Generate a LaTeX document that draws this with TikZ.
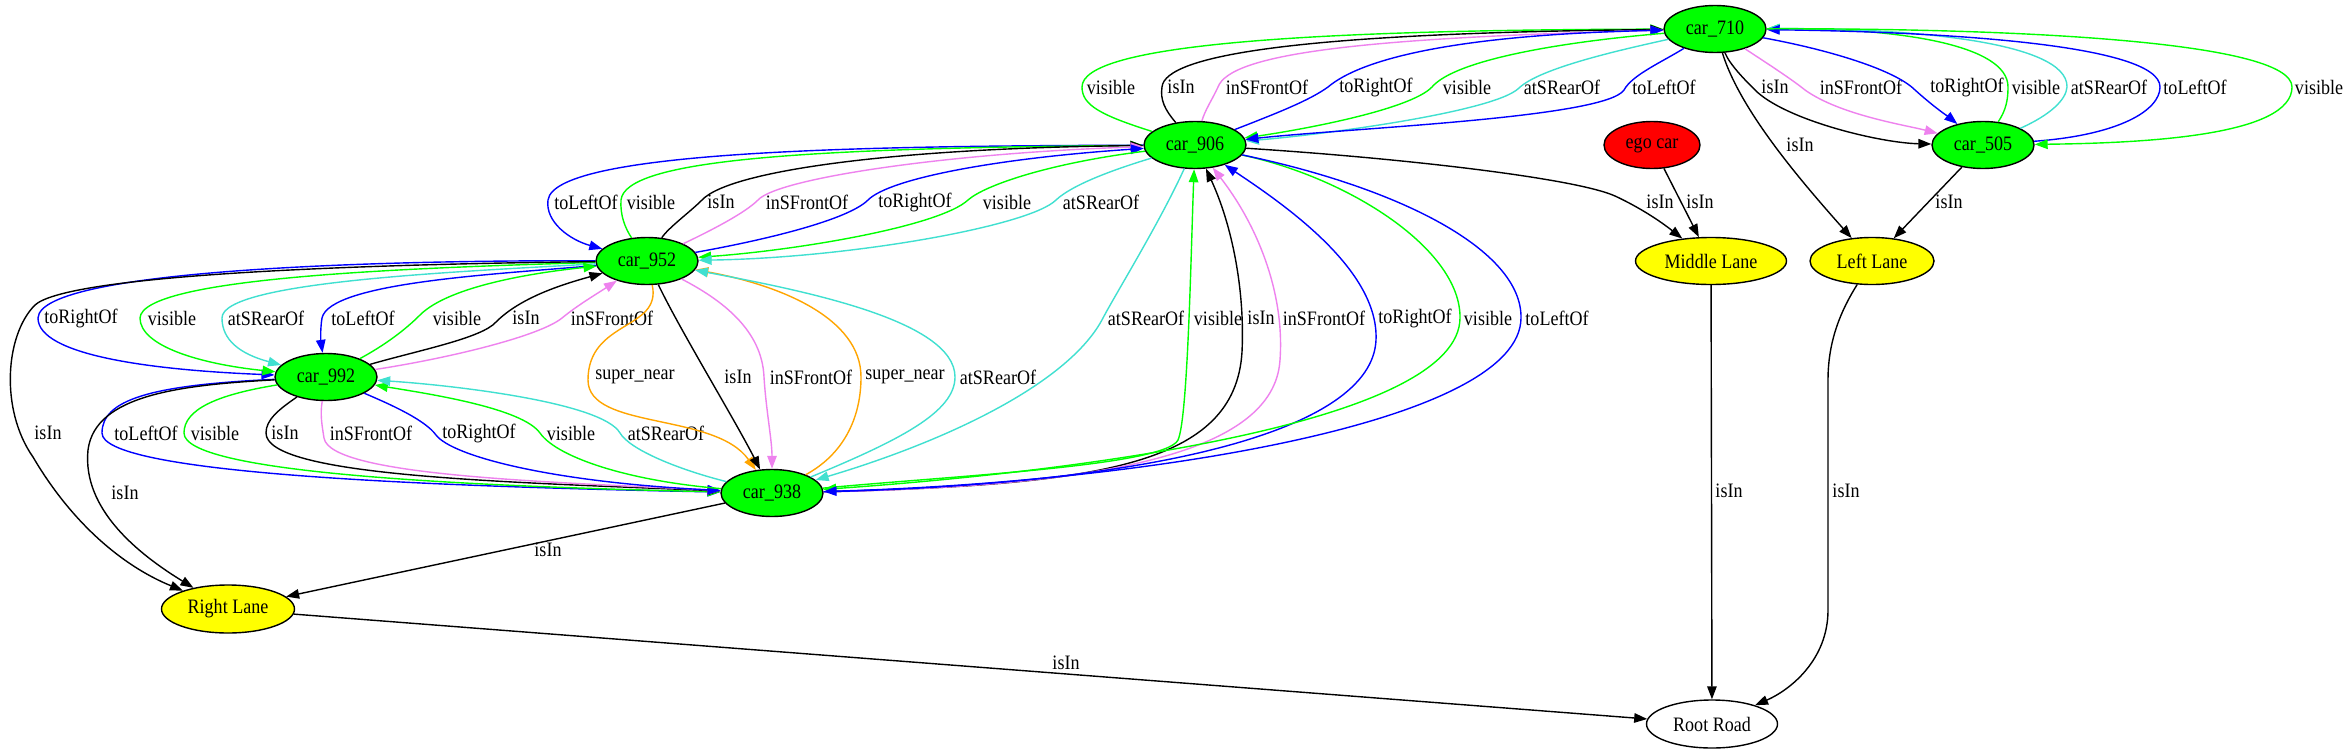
\documentclass[tikz,border=0pt]{standalone}
\usepackage{fontspec}
\setmainfont{Liberation Serif}
\newfontfamily\gvfam[FakeStretch=0.88]{Liberation Serif}
\usetikzlibrary{shapes.geometric,arrows.meta}
\definecolor{gvgreen}{HTML}{00FF00}
\definecolor{gvblue}{HTML}{0000FF}
\definecolor{gvviolet}{HTML}{EE82EE}
\definecolor{gvturq}{HTML}{40E0D0}
\definecolor{gvorange}{HTML}{FFA500}
\definecolor{gvred}{HTML}{FF0000}
\definecolor{gvyellow}{HTML}{FFFF00}
\newcommand{\gvf}{\gvfam\fontsize{20.5}{23}\selectfont}
\tikzset{
  nd/.style={ellipse, draw=black, line width=1.4pt, inner sep=0pt, minimum height=47pt, font=\gvf, text=black},
  car/.style={nd, fill=gvgreen, minimum width=102pt},
  egonode/.style={nd, fill=gvred, minimum width=96pt},
  lane/.style={nd, fill=gvyellow},
  road/.style={nd, fill=white, minimum width=131pt, minimum height=48pt},
  ed/.style={line width=1.4pt, -{Triangle[length=13pt,width=9.5pt]}},
  eg/.style={ed, draw=gvgreen},
  eb/.style={ed, draw=gvblue},
  ek/.style={ed, draw=black},
  ev/.style={ed, draw=gvviolet},
  et/.style={ed, draw=gvturq},
  eo/.style={ed, draw=gvorange},
  lbl/.style={font=\gvf, inner sep=0pt, text=black}
}
\begin{document}
\begin{tikzpicture}[x=1pt,y=-1pt]
\fill[white] (0,0) rectangle (2349,755);
\useasboundingbox (0,0) rectangle (2349,755);

% nodes
\node[car] (n710) at (1715,29) {car\_710};
\node[car] (n906) at (1195,145) {car\_906};
\node[egonode] (nego) at (1652,145) {ego car};
\node[car] (n505) at (1983,145) {car\_505};
\node[car] (n952) at (647,261) {car\_952};
\node[lane, minimum width=151pt] (nML) at (1711,261) {Middle Lane};
\node[lane, minimum width=124pt] (nLL) at (1872,261) {Left Lane};
\node[car] (n992) at (326,377) {car\_992};
\node[car] (n938) at (772,493) {car\_938};
\node[lane, minimum width=133pt, minimum height=48pt] (nRL) at (228,609) {Right Lane};
\node[road] (nRR) at (1712,724) {Root Road};

% 906 <-> 710
\draw[eg] (n906) .. controls (1100,115) and (1082,105) .. (1082,87) .. controls (1082,45) and (1300,30) .. (n710) node[lbl] at (1111,87) {visible};
\draw[ek] (n906) .. controls (1165,110) and (1160,100) .. (1162,87) .. controls (1165,55) and (1300,33) .. (n710) node[lbl] at (1181,87) {isIn};
\draw[ev] (n906) .. controls (1205,110) and (1212,100) .. (1218,87) .. controls (1230,55) and (1350,38) .. (n710) node[lbl] at (1267,87) {inSFrontOf};
\draw[eb] (n906) .. controls (1280,112) and (1310,100) .. (1328,87) .. controls (1360,60) and (1450,35) .. (n710) node[lbl] at (1376,87) {toRightOf};
\draw[eg] (n710) .. controls (1560,42) and (1455,60) .. (1432,87) .. controls (1410,110) and (1300,130) .. (n906) node[lbl] at (1467,87) {visible};
\draw[et] (n710) .. controls (1620,50) and (1540,68) .. (1519,88) .. controls (1495,112) and (1320,135) .. (n906) node[lbl] at (1562,87) {atSRearOf};
\draw[eb] (n710) .. controls (1662,62) and (1632,75) .. (1624,90) .. controls (1605,118) and (1350,128) .. (n906) node[lbl] at (1664,87) {toLeftOf};

% 710 <-> 505
\draw[ek] (n710) .. controls (1730,65) and (1745,80) .. (1755,90) .. controls (1785,120) and (1880,143) .. (n505) node[lbl] at (1775,87) {isIn};
\draw[ev] (n710) .. controls (1765,62) and (1790,78) .. (1805,90) .. controls (1840,115) and (1905,125) .. (n505) node[lbl] at (1861,87) {inSFrontOf};
\draw[eb] (n710) .. controls (1830,50) and (1895,70) .. (1915,90) .. controls (1935,108) and (1950,118) .. (n505) node[lbl] at (1967,87) {toRightOf};
\draw[eg] (n505) .. controls (2006,110) and (2008,100) .. (2008,87) .. controls (2008,45) and (1900,28) .. (n710) node[lbl] at (2036,87) {visible};
\draw[et] (n505) .. controls (2050,115) and (2066,100) .. (2067,87) .. controls (2068,40) and (1900,28) .. (n710) node[lbl] at (2109,87) {atSRearOf};
\draw[eb] (n505) .. controls (2120,135) and (2160,110) .. (2160,87) .. controls (2160,45) and (1950,32) .. (n710) node[lbl] at (2195,87) {toLeftOf};
\draw[eg] (n710) .. controls (2000,28) and (2292,40) .. (2292,87) .. controls (2292,135) and (2150,143) .. (n505) node[lbl] at (2319,87) {visible};

% lanes (upper)
\draw[ek] (n906) .. controls (1400,158) and (1575,178) .. (1615,196) .. controls (1645,210) and (1665,225) .. (nML) node[lbl] at (1660,202) {isIn};
\draw[ek] (nego) -- (nML) node[lbl] at (1700,202) {isIn};
\draw[ek] (n505) -- (nLL) node[lbl] at (1949,202) {isIn};
\draw[ek] (n710) .. controls (1740,110) and (1800,180) .. (nLL) node[lbl] at (1800,145) {isIn};

% 906 <-> 952
\draw[eb] (n906) .. controls (900,146) and (555,148) .. (548,200) .. controls (545,222) and (570,240) .. (n952) node[lbl] at (586,202) {toLeftOf};
\draw[eg] (n952) .. controls (625,228) and (620,215) .. (621,200) .. controls (625,160) and (800,148) .. (n906) node[lbl] at (651,202) {visible};
\draw[ek] (n952) .. controls (668,228) and (690,212) .. (702,200) .. controls (730,170) and (900,148) .. (n906) node[lbl] at (721,202) {isIn};
\draw[ev] (n952) .. controls (712,230) and (745,213) .. (758,200) .. controls (778,178) and (950,153) .. (n906) node[lbl] at (807,202) {inSFrontOf};
\draw[eb] (n952) .. controls (765,240) and (848,220) .. (868,200) .. controls (890,178) and (1000,158) .. (n906) node[lbl] at (915,202) {toRightOf};
\draw[eg] (n906) .. controls (1050,163) and (985,185) .. (968,200) .. controls (940,226) and (800,250) .. (n952) node[lbl] at (1007,202) {visible};
\draw[et] (n906) .. controls (1112,170) and (1072,185) .. (1056,200) .. controls (1030,226) and (850,258) .. (n952) node[lbl] at (1101,202) {atSRearOf};

% 952 <-> 992
\draw[eb] (n952) .. controls (400,260) and (40,268) .. (38,318) .. controls (38,355) and (150,370) .. (n992) node[lbl] at (81,318) {toRightOf};
\draw[eg] (n952) .. controls (400,268) and (142,278) .. (140,318) .. controls (140,346) and (200,364) .. (n992) node[lbl] at (172,318) {visible};
\draw[et] (n952) .. controls (450,272) and (222,282) .. (222,318) .. controls (222,340) and (240,354) .. (n992) node[lbl] at (266,318) {atSRearOf};
\draw[eb] (n952) .. controls (500,274) and (330,282) .. (322,318) .. controls (320,330) and (321,342) .. (n992) node[lbl] at (363,318) {toLeftOf};
\draw[eg] (n992) .. controls (385,345) and (405,330) .. (420,315) .. controls (450,285) and (540,272) .. (n952) node[lbl] at (457,318) {visible};
\draw[ek] (n992) .. controls (420,350) and (482,338) .. (496,322) .. controls (520,298) and (560,285) .. (n952) node[lbl] at (526,318) {isIn};
\draw[ev] (n992) .. controls (450,358) and (540,336) .. (562,318) .. controls (578,305) and (595,295) .. (n952) node[lbl] at (612,318) {inSFrontOf};

% 992 <-> 938
\draw[eb] (n992) .. controls (150,385) and (102,400) .. (102,433) .. controls (102,472) and (400,486) .. (n938) node[lbl] at (146,433) {toLeftOf};
\draw[eg] (n992) .. controls (215,395) and (184,410) .. (184,433) .. controls (184,472) and (450,486) .. (n938) node[lbl] at (215,433) {visible};
\draw[ek] (n992) .. controls (278,410) and (266,420) .. (266,433) .. controls (266,476) and (500,482) .. (n938) node[lbl] at (285,433) {isIn};
\draw[ev] (n992) .. controls (320,415) and (322,425) .. (324,438) .. controls (330,476) and (550,482) .. (n938) node[lbl] at (371,433) {inSFrontOf};
\draw[eb] (n992) .. controls (392,405) and (425,420) .. (436,435) .. controls (452,456) and (550,482) .. (n938) node[lbl] at (479,433) {toRightOf};
\draw[eg] (n938) .. controls (620,480) and (555,455) .. (540,433) .. controls (522,408) and (430,394) .. (n992) node[lbl] at (571,433) {visible};
\draw[et] (n938) .. controls (680,470) and (630,450) .. (620,433) .. controls (602,402) and (450,385) .. (n992) node[lbl] at (666,433) {atSRearOf};

% 952 <-> 938
\draw[eo] (n952) .. controls (662,330) and (588,320) .. (588,380) .. controls (588,430) and (715,412) .. (n938) node[lbl] at (635,377) {super\_near};
\draw[ek] (n952) .. controls (680,330) and (735,420) .. (n938) node[lbl] at (738,377) {isIn};
\draw[ev] (n952) .. controls (722,300) and (762,330) .. (764,377) .. controls (766,410) and (772,440) .. (n938) node[lbl] at (811,377) {inSFrontOf};
\draw[eo] (n938) .. controls (842,455) and (861,420) .. (861,377) .. controls (861,318) and (780,285) .. (n952) node[lbl] at (905,377) {super\_near};
\draw[et] (n938) .. controls (900,440) and (955,412) .. (955,377) .. controls (955,320) and (800,290) .. (n952) node[lbl] at (998,377) {atSRearOf};

% 906 <-> 938
\draw[et] (n906) .. controls (1160,222) and (1115,295) .. (1103,318) .. controls (1070,382) and (950,440) .. (n938) node[lbl] at (1146,318) {atSRearOf};
\draw[eg] (n938) .. controls (950,476) and (1165,466) .. (1178,440) .. controls (1188,418) and (1191,250) .. (n906) node[lbl] at (1218,318) {visible};
\draw[ek] (n938) .. controls (1100,485) and (1235,465) .. (1242,352) .. controls (1245,290) and (1232,225) .. (n906) node[lbl] at (1261,318) {isIn};
\draw[ev] (n938) .. controls (1100,486) and (1274,455) .. (1280,360) .. controls (1285,290) and (1255,222) .. (n906) node[lbl] at (1324,318) {inSFrontOf};
\draw[eb] (n938) .. controls (1150,484) and (1372,432) .. (1376,340) .. controls (1379,270) and (1285,205) .. (n906) node[lbl] at (1415,318) {toRightOf};
\draw[eg] (n906) .. controls (1350,178) and (1461,250) .. (1460,318) .. controls (1459,420) and (1100,470) .. (n938) node[lbl] at (1488,318) {visible};
\draw[eb] (n906) .. controls (1400,188) and (1522,250) .. (1521,318) .. controls (1520,422) and (1150,482) .. (n938) node[lbl] at (1557,318) {toLeftOf};

% lanes (lower)
\draw[ek] (n952) .. controls (300,265) and (65,278) .. (35,305) .. controls (5,335) and (0,410) .. (33,457) .. controls (70,520) and (120,565) .. (nRL) node[lbl] at (48,433) {isIn};
\draw[ek] (n992) .. controls (180,385) and (95,395) .. (88,450) .. controls (82,510) and (140,555) .. (nRL) node[lbl] at (125,493) {isIn};
\draw[ek] (n938) -- (nRL) node[lbl] at (548,550) {isIn};
\draw[ek] (nRL) -- (nRR) node[lbl] at (1066,663) {isIn};
\draw[ek] (nML) -- (nRR) node[lbl] at (1729,491) {isIn};
\draw[ek] (nLL) .. controls (1838,315) and (1828,345) .. (1828,380) -- (1828,610) .. controls (1828,660) and (1790,690) .. (nRR) node[lbl] at (1846,491) {isIn};
\end{tikzpicture}
\end{document}
